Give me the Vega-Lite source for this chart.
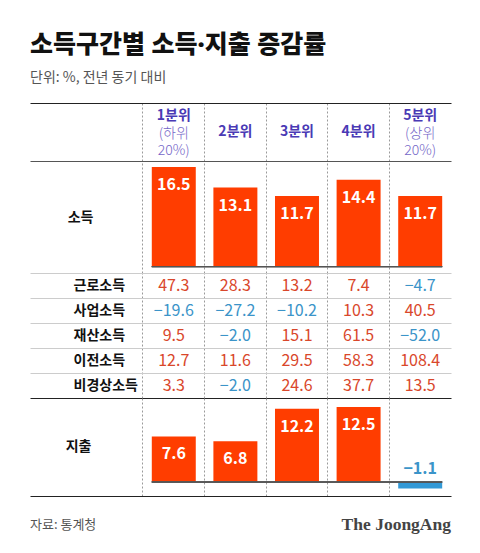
{
  "$schema": "https://vega.github.io/schema/vega-lite/v6.json",
  "padding": {"top": 33, "left": 30, "right": 29, "bottom": 0},
  "background": "white",
  "title": {
    "text": "소득구간별 소득·지출 증감률",
    "subtitle": "단위: %, 전년 동기 대비",
    "anchor": "start",
    "font": "'Noto Sans', 'Noto Sans CJK KR'",
    "fontSize": 25,
    "fontWeight": 900,
    "color": "#111111",
    "subtitleFont": "Noto Sans CJK KR",
    "subtitleFontSize": 14,
    "subtitleColor": "#555555",
    "subtitlePadding": 13,
    "offset": 18
  },
  "spacing": 0,
  "resolve": {"scale": {"x": "independent", "y": "independent"}},
  "datasets": {
    "header": [
      {"q": "1분위", "note1": "(하위", "note2": "20%)"},
      {"q": "2분위"},
      {"q": "3분위"},
      {"q": "4분위"},
      {"q": "5분위", "note1": "(상위", "note2": "20%)"}
    ],
    "income": [
      {"q": "1분위", "value": 16.5},
      {"q": "2분위", "value": 13.1},
      {"q": "3분위", "value": 11.7},
      {"q": "4분위", "value": 14.4},
      {"q": "5분위", "value": 11.7}
    ],
    "detail": [
      {"item": "근로소득", "q": "1분위", "value": 47.3},
      {"item": "근로소득", "q": "2분위", "value": 28.3},
      {"item": "근로소득", "q": "3분위", "value": 13.2},
      {"item": "근로소득", "q": "4분위", "value": 7.4},
      {"item": "근로소득", "q": "5분위", "value": -4.7},
      {"item": "사업소득", "q": "1분위", "value": -19.6},
      {"item": "사업소득", "q": "2분위", "value": -27.2},
      {"item": "사업소득", "q": "3분위", "value": -10.2},
      {"item": "사업소득", "q": "4분위", "value": 10.3},
      {"item": "사업소득", "q": "5분위", "value": 40.5},
      {"item": "재산소득", "q": "1분위", "value": 9.5},
      {"item": "재산소득", "q": "2분위", "value": -2.0},
      {"item": "재산소득", "q": "3분위", "value": 15.1},
      {"item": "재산소득", "q": "4분위", "value": 61.5},
      {"item": "재산소득", "q": "5분위", "value": -52.0},
      {"item": "이전소득", "q": "1분위", "value": 12.7},
      {"item": "이전소득", "q": "2분위", "value": 11.6},
      {"item": "이전소득", "q": "3분위", "value": 29.5},
      {"item": "이전소득", "q": "4분위", "value": 58.3},
      {"item": "이전소득", "q": "5분위", "value": 108.4},
      {"item": "비경상소득", "q": "1분위", "value": 3.3},
      {"item": "비경상소득", "q": "2분위", "value": -2.0},
      {"item": "비경상소득", "q": "3분위", "value": 24.6},
      {"item": "비경상소득", "q": "4분위", "value": 37.7},
      {"item": "비경상소득", "q": "5분위", "value": 13.5}
    ],
    "spending": [
      {"q": "1분위", "value": 7.6},
      {"q": "2분위", "value": 6.8},
      {"q": "3분위", "value": 12.2},
      {"q": "4분위", "value": 12.5},
      {"q": "5분위", "value": -1.1}
    ],
    "footer": [
      {"side": "source", "text": "자료: 통계청"},
      {"side": "brand", "text": "The JoongAng"}
    ]
  },
  "vconcat": [
    {
      "width": 421,
      "height": 58,
      "data": {"name": "header"},
      "encoding": {
        "x": {
          "field": "q", "type": "nominal",
          "scale": {"type": "band", "domain": ["1분위", "2분위", "3분위", "4분위", "5분위"], "paddingInner": 0, "paddingOuter": 0.917, "align": 1},
          "axis": {"orient": "top", "title": null, "labels": false, "ticks": false, "domain": true, "domainColor": "#222222", "domainWidth": 1, "grid": true, "gridColor": "#9a9a9a", "gridDash": [2, 2], "gridWidth": 1, "bandPosition": 0}
        }
      },
      "layer": [
        {
          "transform": [{"filter": "!datum.note1"}],
          "mark": {"type": "text", "fontSize": 14, "fontWeight": "bold", "color": "#4a3ab5", "baseline": "middle"},
          "encoding": {"text": {"field": "q"}}
        },
        {
          "transform": [{"filter": "datum.note1"}],
          "mark": {"type": "text", "fontSize": 14, "fontWeight": "bold", "color": "#4a3ab5", "baseline": "middle", "dy": -16},
          "encoding": {"text": {"field": "q"}}
        },
        {
          "transform": [{"filter": "datum.note1"}],
          "mark": {"type": "text", "fontSize": 14, "fontWeight": 300, "color": "#7466c8", "baseline": "middle", "dy": 2},
          "encoding": {"text": {"field": "note1"}}
        },
        {
          "transform": [{"filter": "datum.note2"}],
          "mark": {"type": "text", "fontSize": 14, "fontWeight": 300, "color": "#7466c8", "baseline": "middle", "dy": 19},
          "encoding": {"text": {"field": "note2"}}
        }
      ]
    },
    {
      "width": 421,
      "height": 112,
      "data": {"name": "income"},
      "encoding": {
        "x": {
          "field": "q", "type": "nominal",
          "scale": {"type": "band", "domain": ["1분위", "2분위", "3분위", "4분위", "5분위"], "paddingInner": 0, "paddingOuter": 0.917, "align": 1},
          "axis": {"orient": "top", "title": null, "labels": false, "ticks": false, "domain": true, "domainColor": "#555555", "domainWidth": 1, "grid": true, "gridColor": "#9a9a9a", "gridDash": [2, 2], "gridWidth": 1, "bandPosition": 0}
        }
      },
      "layer": [
        {
          "mark": {"type": "bar", "width": {"band": 0.714}},
          "encoding": {
            "y": {
              "field": "value", "type": "quantitative",
              "scale": {"domain": [-1.05, 17.5], "nice": false, "zero": false},
              "axis": {"orient": "left", "title": "소득", "titleAngle": 0, "titleAlign": "center", "titleBaseline": "middle", "titleX": 50, "titleY": 56, "titleFontSize": 14, "titleFontWeight": "bold", "titleColor": "#111111", "labels": false, "ticks": false, "domain": false, "grid": false}
            },
            "color": {"condition": {"test": "datum.value < 0", "value": "#3399d6"}, "value": "#ff3d00"}
          }
        },
        {
          "mark": {"type": "rule", "color": "#555555", "strokeWidth": 1},
          "encoding": {
            "x": {"datum": "1분위", "bandPosition": 0.143},
            "x2": {"datum": "5분위", "bandPosition": 0.857},
            "y": {"datum": 0}
          }
        },
        {
          "mark": {"type": "text", "fontSize": 16, "fontWeight": "bold", "color": "white", "baseline": "middle", "dy": 18},
          "encoding": {
            "y": {"field": "value", "type": "quantitative"},
            "text": {"field": "value", "type": "quantitative", "format": ".1f"}
          }
        }
      ]
    },
    {
      "width": 421,
      "height": 125,
      "data": {"name": "detail"},
      "mark": {"type": "text", "fontSize": 16, "baseline": "middle"},
      "encoding": {
        "x": {
          "field": "q", "type": "nominal",
          "scale": {"type": "band", "domain": ["1분위", "2분위", "3분위", "4분위", "5분위"], "paddingInner": 0, "paddingOuter": 0.917, "align": 1},
          "axis": {"orient": "bottom", "title": null, "labels": false, "ticks": false, "domain": true, "domainColor": "#222222", "domainWidth": 1, "grid": true, "gridColor": "#9a9a9a", "gridDash": [2, 2], "gridWidth": 1, "bandPosition": 0}
        },
        "y": {
          "field": "item", "type": "nominal",
          "scale": {"type": "band", "domain": ["근로소득", "사업소득", "재산소득", "이전소득", "비경상소득"], "paddingInner": 0, "paddingOuter": 0},
          "axis": {"orient": "left", "title": null, "bandPosition": 0, "grid": true, "gridColor": "#cccccc", "gridWidth": 1, "ticks": false, "tickSize": 0, "domain": false, "labelAlign": "left", "labelBaseline": "middle", "labelPadding": -43, "labelFontSize": 14, "labelFontWeight": "bold", "labelColor": "#111111"}
        },
        "text": {"field": "value", "type": "quantitative", "format": ".1f"},
        "color": {"condition": {"test": "datum.value < 0", "value": "#3b94c9"}, "value": "#d9472b"}
      }
    },
    {
      "width": 421,
      "height": 98,
      "data": {"name": "spending"},
      "encoding": {
        "x": {
          "field": "q", "type": "nominal",
          "scale": {"type": "band", "domain": ["1분위", "2분위", "3분위", "4분위", "5분위"], "paddingInner": 0, "paddingOuter": 0.917, "align": 1},
          "axis": {"orient": "bottom", "title": null, "labels": false, "ticks": false, "domain": true, "domainColor": "#222222", "domainWidth": 1, "grid": true, "gridColor": "#9a9a9a", "gridDash": [2, 2], "gridWidth": 1, "bandPosition": 0}
        }
      },
      "layer": [
        {
          "mark": {"type": "bar", "width": {"band": 0.714}},
          "encoding": {
            "y": {
              "field": "value", "type": "quantitative",
              "scale": {"domain": [-2.33, 14], "nice": false, "zero": false},
              "axis": {"orient": "left", "title": "지출", "titleAngle": 0, "titleAlign": "center", "titleBaseline": "middle", "titleX": 48, "titleY": 48, "titleFontSize": 14, "titleFontWeight": "bold", "titleColor": "#111111", "labels": false, "ticks": false, "domain": false, "grid": false}
            },
            "color": {"condition": {"test": "datum.value < 0", "value": "#3399d6"}, "value": "#ff3d00"}
          }
        },
        {
          "mark": {"type": "rule", "color": "#555555", "strokeWidth": 1},
          "encoding": {
            "x": {"datum": "1분위", "bandPosition": 0.143},
            "x2": {"datum": "5분위", "bandPosition": 0.857},
            "y": {"datum": 0}
          }
        },
        {
          "transform": [{"filter": "datum.value >= 0"}],
          "mark": {"type": "text", "fontSize": 16, "fontWeight": "bold", "color": "white", "baseline": "middle", "dy": 18},
          "encoding": {
            "y": {"field": "value", "type": "quantitative"},
            "text": {"field": "value", "type": "quantitative", "format": ".1f"}
          }
        },
        {
          "transform": [{"filter": "datum.value < 0"}],
          "mark": {"type": "text", "fontSize": 16, "fontWeight": "bold", "color": "#3b94c9", "baseline": "middle", "dy": -13},
          "encoding": {
            "y": {"datum": 0},
            "text": {"field": "value", "type": "quantitative", "format": ".1f"}
          }
        }
      ]
    },
    {
      "width": 421,
      "height": 57,
      "data": {"name": "footer"},
      "layer": [
        {
          "transform": [{"filter": "datum.side === 'source'"}],
          "mark": {"type": "text", "align": "left", "baseline": "middle", "fontSize": 13, "color": "#555555"},
          "encoding": {
            "x": {"field": "side", "type": "nominal", "bandPosition": 0, "scale": {"type": "band", "domain": ["source", "brand"], "paddingInner": 0, "paddingOuter": 0}, "axis": null},
            "text": {"field": "text"}
          }
        },
        {
          "transform": [{"filter": "datum.side === 'brand'"}],
          "mark": {"type": "text", "align": "right", "baseline": "middle", "font": "Liberation Serif", "fontWeight": "bold", "fontSize": 17.5, "color": "#444444"},
          "encoding": {
            "x": {"field": "side", "type": "nominal", "bandPosition": 1, "scale": {"type": "band", "domain": ["source", "brand"], "paddingInner": 0, "paddingOuter": 0}, "axis": null},
            "text": {"field": "text"}
          }
        }
      ]
    }
  ],
  "config": {
    "view": {"stroke": null},
    "font": "Noto Sans CJK KR"
  }
}
